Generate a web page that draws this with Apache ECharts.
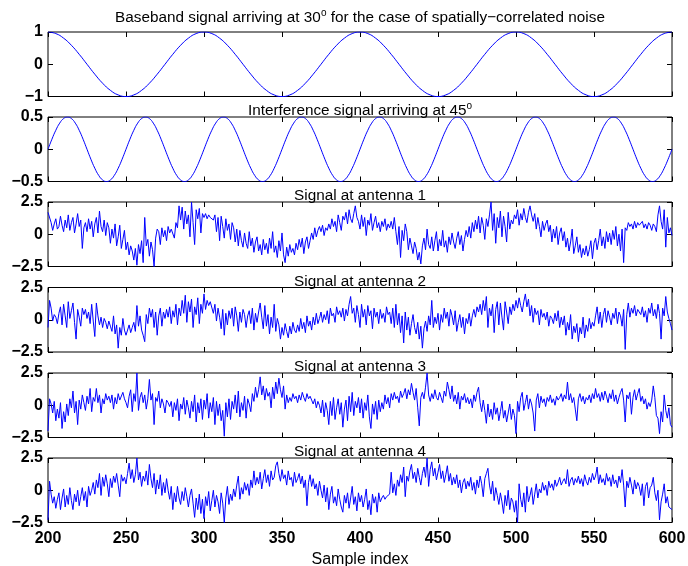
<!DOCTYPE html>
<html><head><meta charset="utf-8">
<script src="https://cdn.jsdelivr.net/npm/echarts@6/dist/echarts.min.js"></script>
<style>html,body{margin:0;padding:0;background:#fff}#c{width:688px;height:566px}</style>
</head><body><div id="c"></div>
<script>
// ---------- DATA ----------
const xStart = 200;
const xEnd = 600;
const xInterval = 50;

const panelTitles = [
  '{n|Baseband signal arriving at 30}{s|o}{n| for the case of spatially\u2212correlated noise}',
  '{n|Interference signal arriving at 45}{s|o}',
  '{n|Signal at antenna 1}',
  '{n|Signal at antenna 2}',
  '{n|Signal at antenna 3}',
  '{n|Signal at antenna 4}'
];
const xAxisName = 'Sample index';
// [min, max, interval]
const yRanges = [[-1, 1, 1], [-0.5, 0.5, 0.5], [-2.5, 2.5, 2.5], [-2.5, 2.5, 2.5], [-2.5, 2.5, 2.5], [-2.5, 2.5, 2.5]];

// baseband signal, one value every 5 samples
const basebandStep = 5;
const baseband = [
 1,0.951,0.809,0.588,0.309,0,-0.309,-0.588,-0.809,-0.951,-1,-0.951,-0.809,-0.588,-0.309,0,0.309,0.588,0.809,0.951,
 1,0.951,0.809,0.588,0.309,0,-0.309,-0.588,-0.809,-0.951,-1,-0.951,-0.809,-0.588,-0.309,0,0.309,0.588,0.809,0.951,
 1,0.951,0.809,0.588,0.309,0,-0.309,-0.588,-0.809,-0.951,-1,-0.951,-0.809,-0.588,-0.309,0,0.309,0.588,0.809,0.951,
 1,0.951,0.809,0.588,0.309,0,-0.309,-0.588,-0.809,-0.951,-1,-0.951,-0.809,-0.588,-0.309,0,0.309,0.588,0.809,0.951,
 1
];

// interference signal, one value every 2.5 samples
const interferenceStep = 2.5;
const interference = [
 0,0.155,0.294,0.405,0.476,0.5,0.476,0.405,0.294,0.155,0,-0.155,-0.294,-0.405,-0.476,-0.5,-0.476,-0.405,-0.294,-0.155,
 0,0.155,0.294,0.405,0.476,0.5,0.476,0.405,0.294,0.155,0,-0.155,-0.294,-0.405,-0.476,-0.5,-0.476,-0.405,-0.294,-0.155,
 0,0.155,0.294,0.405,0.476,0.5,0.476,0.405,0.294,0.155,0,-0.155,-0.294,-0.405,-0.476,-0.5,-0.476,-0.405,-0.294,-0.155,
 0,0.155,0.294,0.405,0.476,0.5,0.476,0.405,0.294,0.155,0,-0.155,-0.294,-0.405,-0.476,-0.5,-0.476,-0.405,-0.294,-0.155,
 0,0.155,0.294,0.405,0.476,0.5,0.476,0.405,0.294,0.155,0,-0.155,-0.294,-0.405,-0.476,-0.5,-0.476,-0.405,-0.294,-0.155,
 0,0.155,0.294,0.405,0.476,0.5,0.476,0.405,0.294,0.155,0,-0.155,-0.294,-0.405,-0.476,-0.5,-0.476,-0.405,-0.294,-0.155,
 0,0.155,0.294,0.405,0.476,0.5,0.476,0.405,0.294,0.155,0,-0.155,-0.294,-0.405,-0.476,-0.5,-0.476,-0.405,-0.294,-0.155,
 0,0.155,0.294,0.405,0.476,0.5,0.476,0.405,0.294,0.155,0,-0.155,-0.294,-0.405,-0.476,-0.5,-0.476,-0.405,-0.294,-0.155,
 0
];

// antenna signals, one value per sample (200..600)
const antennaStep = 1;
const antenna1 = [
 1.7,1.6,0.9,0.3,0.8,1.2,0.4,0.6,1.4,0.7,
 0.2,1.1,0.5,1.5,0.3,0.9,1.3,0.1,0.8,1.6,
 0.6,1.1,-1.1,0.5,0.9,0.2,1.2,0.4,1.0,-0.2,
 0.8,1.3,0.1,1.8,0.6,0.2,1.1,-0.1,0.9,0.5,
 -0.7,0.4,-0.3,0.8,-0.9,-0.2,0.7,-1.1,-0.4,0.3,
 -1.2,-0.6,-1.6,-0.9,-1.3,-2.0,-1.1,-2.4,-0.8,-1.5,
 -0.5,-2.2,1.3,-0.9,-0.4,-1.7,-0.6,-1.2,-2.5,-0.3,
 0.4,0.2,-0.8,0.5,-0.2,0.3,-0.5,0.6,0.1,0.4,
 0.3,-0.3,0.9,0.5,2.2,1.1,2.1,0.4,1.8,0.8,
 1.5,-0.2,2.5,0.9,-0.8,1.9,1.2,2.0,0.1,1.6,
 1.3,1.6,1.2,1.5,1.3,1.4,1.1,1.5,0.2,1.3,
 -0.5,1.4,0.6,-0.3,1.2,0.3,0.8,-0.4,0.9,0.5,
 -0.6,0.4,-0.9,0.3,-0.5,-1.0,0.1,-0.7,-1.1,0.2,
 -0.9,-0.3,-1.4,-0.6,-0.2,-1.3,-0.8,-1.6,-0.4,-1.2,
 -0.7,-1.5,-0.3,-1.1,0.2,-1.4,-0.9,-1.8,-0.5,-1.3,
 0.1,-1.6,-2.2,-1.0,-1.7,-0.8,-1.4,-1.1,-1.6,-0.7,
 -1.2,-0.4,-1.0,-0.3,-1.5,-0.6,-0.2,-1.1,-0.5,0.1,
 -0.4,0.5,-0.2,0.3,0.6,0.2,0.7,-0.1,0.5,0.3,
 0.8,0.4,1.2,0.6,1.0,0.2,1.5,0.9,0.3,1.4,
 1.1,1.7,0.8,1.9,1.2,0.9,1.6,2.2,1.3,1.0,
 0.4,1.5,0.6,1.3,-0.1,1.1,0.7,1.6,0.3,0.9,
 1.4,0.5,0.9,0.2,1.0,0.6,1.2,0.3,0.8,0.5,
 1.0,0.4,1.3,0.2,-0.8,0.6,-1.8,0.3,-0.5,0.8,
 0.2,-1.2,-0.3,-0.9,-1.5,-0.6,-1.1,-2.0,-1.4,-2.3,
 -0.9,-0.3,-1.2,0.4,-0.8,-1.1,-0.2,-1.3,-0.5,0.2,
 -1.3,-0.4,-0.9,0.3,-1.0,-0.5,-1.4,-0.2,-0.8,0.1,
 -0.6,-1.1,-0.3,0.2,-0.8,-0.1,-1.3,-0.4,0.3,-0.2,
 0.6,-0.3,0.9,0.2,1.1,0.4,1.4,0.1,1.3,0.7,
 -0.4,1.2,0.6,1.5,2.5,0.3,1.6,-0.7,1.3,0.5,
 1.8,-0.2,1.4,0.6,-0.6,1.7,0.4,1.1,0.8,1.5,
 1.2,1.9,0.7,1.6,1.1,2.0,1.3,0.9,1.7,2.2,
 1.5,1.0,1.6,0.4,1.3,0.6,-0.2,1.0,0.3,0.8,
 1.1,0.2,0.7,-0.6,0.4,-0.3,0.6,-0.8,0.1,0.5,
 -0.5,0.2,-1.0,-0.3,-1.3,-0.6,0.4,-1.5,-0.9,-0.2,
 -1.4,-0.8,-1.8,-1.1,-1.6,-0.9,-1.7,-1.2,-0.5,-1.9,
 -0.7,-0.3,-1.2,-0.5,0.4,-0.9,-0.2,-1.1,0.2,-0.6,
 0.1,-0.8,0.3,-0.4,0.6,-0.9,0.0,-1.3,0.4,-2.2,
 0.5,0.3,0.9,0.6,0.8,0.4,1.0,0.5,0.9,0.7,
 0.6,1.0,0.5,0.8,0.4,0.9,0.7,0.3,0.8,0.6,
 0.2,1.5,2.2,1.0,0.4,1.9,-1.0,1.3,0.1,0.5,-0.1
];
const antenna2 = [
 -0.6,1.5,0.9,-0.1,0.4,0.2,-0.3,0.5,1.0,-0.4,
 1.2,0.3,-0.6,1.4,0.1,0.7,1.3,-0.2,-1.5,0.8,
 0.2,-0.5,0.9,0.4,0.8,0.1,0.6,-0.3,1.2,-0.1,
 -1.3,1.3,0.3,-0.4,0.2,-0.6,0.1,-0.2,-0.7,-0.1,
 -0.5,-0.9,0.3,-1.1,-0.4,-2.2,-0.6,-1.2,0.1,-0.8,
 -1.2,-1.1,-0.4,-1.0,-0.6,-0.2,-0.9,1.1,-0.5,0.3,
 -0.8,-1.2,-1.7,0.4,-0.3,0.9,0.2,0.8,-0.6,0.6,
 -1.2,0.3,0.9,-0.5,0.6,0.1,0.8,0.2,1.0,-0.3,
 0.7,0.2,1.2,-0.4,0.9,0.3,1.5,0.5,1.9,-0.2,
 1.4,0.6,1.6,-0.6,1.0,0.4,1.7,-0.3,1.2,0.5,
 2.0,0.8,1.5,1.1,1.4,1.3,0.5,1.2,-0.1,0.9,
 0.2,-0.7,0.8,-1.2,0.5,-0.4,0.7,0.1,0.9,-0.5,
 1.0,0.3,-0.9,0.6,-0.2,0.8,0.4,-0.6,0.3,0.7,
 -0.3,0.9,-0.8,0.5,-0.2,0.6,1.3,0.2,-0.7,1.1,
 -0.5,0.4,-1.1,0.2,-0.6,1.2,-0.9,0.1,-0.4,-1.5,
 -0.6,-1.2,-0.3,-0.9,-1.4,-0.5,-1.1,-0.2,-0.8,-1.0,
 -0.4,-0.9,0.1,-0.7,-0.2,-1.0,0.3,-0.5,-0.1,-0.8,
 0.2,-0.4,0.5,-0.3,0.1,0.6,-0.2,0.4,0.0,0.7,
 -0.3,0.9,0.3,0.5,-0.2,1.0,0.4,0.7,0.2,0.9,
 -0.1,0.8,0.3,1.2,1.8,0.5,0.9,-0.2,1.1,0.4,
 -0.6,1.2,0.2,0.8,-0.4,1.1,0.3,0.7,-0.7,0.9,
 0.2,0.6,-0.3,0.8,0.1,0.5,-0.2,1.0,0.4,0.6,
 -0.3,0.9,-0.6,1.2,-0.4,0.5,-1.0,0.3,-1.8,0.6,
 -0.8,0.2,-1.2,-0.3,0.4,-0.6,-1.1,-0.2,-1.5,-0.5,
 -2.2,-0.7,-0.1,-0.9,0.3,-0.4,1.5,-0.6,0.2,-0.3,
 0.5,-0.8,0.4,-0.2,0.9,0.1,0.6,-0.5,0.8,0.3,
 -0.4,0.7,-0.9,-0.2,0.4,-0.6,0.2,-1.1,0.1,-0.3,
 0.5,-0.5,0.3,0.8,0.2,1.0,0.6,1.2,0.4,1.5,
 0.7,1.8,-0.6,0.9,0.3,1.2,-1.0,0.8,1.4,-0.4,
 1.3,0.2,-0.8,1.4,0.6,-0.3,1.0,0.4,1.2,0.7,
 1.5,0.9,1.7,1.1,0.6,1.4,2.0,1.0,1.6,0.3,
 1.1,-0.2,0.9,0.4,0.7,-0.4,0.8,0.2,0.5,0.0,
 0.6,-0.5,0.3,0.1,-0.3,0.5,-0.1,0.7,-0.6,0.2,
 -0.4,0.3,-1.2,-0.2,-0.8,0.4,-1.5,-0.5,-1.0,-0.3,
 -1.7,-0.6,-1.1,0.2,-1.4,-0.4,-0.9,0.1,-0.7,-0.2,
 -0.5,0.3,1.0,-0.3,0.6,-0.6,0.4,0.9,-0.2,0.7,
 0.2,-0.4,0.5,0.1,0.9,-0.3,0.6,0.3,-0.5,0.8,
 -2.3,0.4,1.3,0.2,0.9,0.5,1.1,0.3,0.8,0.6,
 0.4,1.0,0.2,0.7,-0.2,0.9,0.5,1.3,0.3,0.8,
 0.1,1.2,0.5,-1.5,0.9,0.3,1.8,0.6,0.1,-0.3,-0.8
];
const antenna3 = [
 -2.0,0.5,0.1,-0.6,0.3,-1.2,-0.3,-1.0,0.2,-1.8,
 -0.5,-1.3,0.1,-0.8,0.5,-0.2,1.1,-0.6,0.3,-1.5,
 0.4,-0.3,0.8,0.2,-0.4,0.7,0.1,1.3,-0.5,0.6,
 0.3,1.3,0.2,0.8,-0.6,0.5,0.1,0.9,0.4,0.7,
 0.2,0.8,-0.3,0.6,0.1,0.9,0.4,0.3,1.0,0.5,
 0.2,-0.2,0.7,1.2,-0.5,0.9,0.3,2.5,-0.4,0.6,
 1.0,0.2,0.8,-0.3,0.5,2.0,0.4,0.9,-1.5,0.6,
 0.3,1.1,-0.2,0.5,0.1,-0.6,0.4,0.2,-0.1,0.3,
 -0.9,0.2,-0.4,0.5,-1.2,0.1,-0.3,0.6,-0.7,0.4,
 -0.2,-1.0,0.3,-0.5,0.8,-1.3,0.2,-0.6,0.5,-1.1,
 0.4,-0.3,0.9,-1.0,0.2,-0.5,0.6,-1.5,0.3,-0.8,
 0.1,-1.2,-0.4,-2.4,0.2,-0.9,0.5,-1.1,0.3,-0.3,
 0.8,-0.6,1.1,-0.9,0.2,-0.4,0.7,-1.0,0.5,0.1,
 -0.5,0.9,0.3,1.4,0.6,1.2,2.2,0.8,1.5,0.4,
 1.3,0.7,1.0,-0.2,1.4,0.5,1.8,0.9,2.1,1.2,
 0.6,1.5,-0.3,0.8,0.2,0.6,0.3,0.9,0.5,0.7,
 0.2,0.8,0.4,1.0,0.6,0.3,0.9,0.5,0.7,0.4,
 0.1,0.5,-0.2,0.3,0.0,-0.6,0.4,-0.9,0.2,-0.4,
 -1.5,0.3,-0.8,0.6,-1.1,-0.2,0.5,-0.7,0.2,-1.7,
 -0.3,0.4,-1.2,0.7,-0.5,1.0,-0.8,0.3,-0.2,0.6,
 -0.6,0.5,-1.0,0.2,-0.4,0.8,-0.9,-1.8,0.1,-0.7,
 0.3,-1.1,0.4,-0.5,0.2,-0.3,0.8,0.1,0.6,-0.2,
 0.9,0.4,1.0,0.5,0.7,0.2,1.1,0.6,0.9,1.3,
 0.5,1.2,0.8,1.7,1.0,0.4,1.3,-0.2,-1.6,0.6,
 1.0,0.5,1.4,2.5,0.8,0.3,0.9,0.5,1.2,0.6,
 0.4,1.0,0.6,0.2,1.1,0.7,1.8,1.2,0.5,1.5,
 0.3,0.8,0.1,1.0,-0.3,0.7,0.4,0.9,0.2,0.6,
 0.1,0.5,-0.2,0.8,0.3,1.0,1.4,0.2,-0.5,0.4,
 -0.4,-1.4,0.1,-0.9,-0.3,-1.1,0.2,-0.7,-0.2,-1.2,
 -0.5,0.3,-1.0,-0.4,-1.3,-0.6,0.1,-1.1,-0.3,-0.8,
 -2.2,0.3,-0.5,0.6,1.0,-0.4,0.2,0.8,-0.3,0.5,
 0.1,-0.6,-2.0,0.4,0.9,-0.2,0.7,0.2,0.5,-0.1,
 0.6,0.3,0.8,0.2,0.5,0.0,0.7,0.4,0.6,0.9,
 0.3,0.8,0.5,1.8,0.4,0.9,0.2,0.6,-0.3,-1.2,
 0.5,0.9,0.3,0.7,0.1,0.6,0.4,0.8,0.2,0.9,
 0.5,1.3,0.6,0.9,0.3,1.0,0.4,1.1,0.7,0.2,
 0.9,0.5,1.2,0.3,0.8,0.1,0.6,1.0,1.3,0.4,
 -1.3,0.8,0.5,1.0,-0.7,0.6,1.2,0.4,0.9,1.3,
 0.3,0.7,0.1,0.5,-0.3,0.2,-0.1,0.4,1.5,0.6,
 -0.8,-1.0,-2.2,-0.5,-1.3,0.8,-0.4,-1.0,-0.2,-1.5,-1.7
];
const antenna4 = [
 -2.3,0.7,-0.3,-1.0,-0.5,-1.4,-0.7,-0.2,-1.5,-0.6,
 0.1,-1.3,-0.4,-1.1,0.2,-0.8,-1.5,-0.3,-0.9,0.0,
 -1.2,-0.5,0.2,-0.8,-0.1,-1.3,0.3,-0.4,0.0,0.6,
 -0.3,0.8,0.2,1.3,-0.4,1.0,0.3,1.2,0.5,-0.5,
 0.9,0.2,1.1,0.6,1.3,0.4,-0.5,1.2,0.7,1.0,
 0.5,1.3,2.1,0.9,1.6,0.6,1.2,2.5,0.8,1.4,
 0.3,1.1,0.7,1.5,0.4,2.0,0.9,0.2,1.3,-0.3,
 0.8,0.1,1.2,-0.4,0.6,-0.2,0.9,0.0,-0.7,0.3,
 -1.5,-0.2,-0.9,0.3,-0.6,-1.1,-0.1,-0.8,0.2,-0.5,
 -1.3,-0.4,0.1,-1.0,-2.1,-0.6,-1.5,-0.3,-1.8,-0.7,
 -2.2,-0.5,-1.2,-0.1,-1.6,-0.8,0.0,-1.3,-0.4,-0.9,
 -1.8,-0.2,-1.0,-2.5,-0.6,0.3,-1.1,-0.3,-0.8,0.1,
 -0.5,0.4,1.1,-0.7,0.2,-0.3,0.6,0.0,0.5,-0.4,
 0.8,0.2,1.5,0.4,1.0,0.5,1.4,0.1,0.9,1.6,
 0.6,1.2,0.3,1.5,0.8,1.0,1.9,2.2,1.3,0.7,
 1.6,0.9,1.2,0.4,1.5,0.8,1.0,0.3,1.4,0.6,
 0.9,1.3,0.5,1.1,0.2,0.8,-1.2,0.6,1.2,0.3,
 0.9,0.1,0.5,-0.4,0.7,0.0,-0.6,0.4,-0.9,0.2,
 -1.5,-0.3,0.3,-1.0,-0.5,-1.2,0.1,-0.7,-1.3,-1.7,
 -0.4,-1.0,-0.2,-1.4,-0.6,0.3,-1.1,-0.5,-1.6,-0.2,
 -0.9,-0.4,-1.3,-0.7,0.1,-1.5,-0.8,-1.9,-0.3,-1.0,
 -0.5,-1.7,-0.2,-0.9,-0.6,-0.4,-0.7,-0.5,-0.6,-0.3,
 1.4,-0.2,0.5,-0.4,0.8,0.3,1.2,0.6,1.8,-0.5,
 1.1,0.7,1.5,2.0,0.9,1.4,0.6,1.7,1.0,0.4,
 1.3,1.8,1.0,2.5,0.3,1.6,2.2,1.1,1.7,0.8,
 1.4,2.0,0.9,1.5,0.6,1.2,1.9,0.7,1.3,0.4,
 1.0,0.5,1.2,0.2,0.8,-0.2,0.6,0.9,0.1,0.7,
 0.3,1.0,0.0,0.6,-0.3,0.8,0.2,1.1,0.5,-0.5,
 0.9,1.3,1.7,0.4,-0.3,0.7,-0.8,0.2,-0.4,-1.1,
 -0.2,-0.9,-1.8,-0.4,-1.2,0.0,-1.5,-0.6,-0.9,-1.7,
 -0.8,-2.5,0.5,-0.7,-1.3,-0.2,-1.7,0.3,-0.9,-0.4,
 0.2,-1.1,-0.3,0.5,-0.6,0.1,-0.2,0.6,0.0,0.4,
 -0.4,0.7,0.2,0.5,0.0,0.8,0.3,0.6,1.0,0.4,
 0.7,0.9,0.5,1.6,0.3,0.8,1.0,0.4,0.9,0.6,
 1.1,0.5,0.9,0.3,1.2,0.7,0.4,1.0,0.6,1.3,
 0.8,1.1,1.8,0.5,1.2,0.6,0.9,0.4,1.3,0.7,
 1.0,0.3,1.2,0.5,0.8,0.2,1.1,0.6,1.6,0.4,
 -1.3,0.7,0.2,1.0,0.4,-0.3,0.8,0.1,0.6,0.3,
 -0.4,0.5,-1.2,0.3,0.6,-0.6,0.2,0.4,1.0,-0.2,
 -0.8,0.0,-2.3,-0.9,-0.3,0.5,-1.0,-0.5,-1.3,-1.2,-1.5
];

const panelSeries = [
  [baseband, basebandStep],
  [interference, interferenceStep],
  [antenna1, antennaStep],
  [antenna2, antennaStep],
  [antenna3, antennaStep],
  [antenna4, antennaStep]
];

// ---------- LAYOUT / STYLE ----------
const FONT = "'Liberation Sans', Arial, Helvetica, sans-serif";
const gridTops = [32, 117, 202, 287.5, 373, 458];
const gridH = 64.5;
const minus = v => String(v).replace('-', '\u2212');

const grids = [], xAxes = [], yAxes = [], series = [], titles = [];
const nP = panelSeries.length;
for (let k = 0; k < nP; k++) {
  grids.push({left: 48, right: 16, top: gridTops[k], height: gridH, show: true,
    borderColor: '#000', borderWidth: 1, backgroundColor: 'transparent', containLabel: false, outerBoundsMode: 'none'});
}
const tickStyle = {inside: true, length: 5, lineStyle: {color: '#000', width: 1}};
for (let k = 0; k < nP; k++) {
  const last = k === nP - 1;
  xAxes.push({gridIndex: k, type: 'value', min: xStart, max: xEnd, interval: xInterval, position: 'bottom',
    axisLine: {show: false, onZero: false}, axisTick: tickStyle, splitLine: {show: false},
    axisLabel: {show: last, color: '#000', fontFamily: FONT, fontSize: 16, fontWeight: 'bold', margin: 8,
      showMinLabel: true, showMaxLabel: true},
    name: last ? xAxisName : '', nameLocation: 'middle', nameGap: 29, nameMoveOverlap: false,
    nameTextStyle: {color: '#000', fontFamily: FONT, fontSize: 16, fontWeight: 'normal', lineHeight: 16}});
}
for (let k = 0; k < nP; k++) {
  xAxes.push({gridIndex: k, type: 'value', min: xStart, max: xEnd, interval: xInterval, position: 'top',
    axisLine: {show: false, onZero: false}, axisTick: tickStyle, splitLine: {show: false}, axisLabel: {show: false}});
}
for (let k = 0; k < nP; k++) {
  const [mn, mx, iv] = yRanges[k];
  yAxes.push({gridIndex: k, type: 'value', min: mn, max: mx, interval: iv, position: 'left',
    axisLine: {show: false, onZero: false}, axisTick: tickStyle, splitLine: {show: false},
    axisLabel: {color: '#000', fontFamily: FONT, fontSize: 16, fontWeight: 'bold', margin: 5,
      showMinLabel: true, showMaxLabel: true, formatter: minus}});
}
for (let k = 0; k < nP; k++) {
  const [mn, mx, iv] = yRanges[k];
  yAxes.push({gridIndex: k, type: 'value', min: mn, max: mx, interval: iv, position: 'right',
    axisLine: {show: false, onZero: false}, axisTick: tickStyle, splitLine: {show: false}, axisLabel: {show: false}});
}
for (let k = 0; k < nP; k++) {
  const [vals, step] = panelSeries[k];
  series.push({type: 'line', xAxisIndex: k, yAxisIndex: k, symbol: 'none', showSymbol: false,
    smooth: k < 2, animation: false, silent: true,
    lineStyle: {color: '#0000ff', width: 1},
    data: vals.map((v, i) => [xStart + i * step, v])});
}
const titleTops = [8, 101, 186, 271.5, 357, 442];
for (let k = 0; k < nP; k++) {
  titles.push({text: panelTitles[k], left: 360, top: titleTops[k], textAlign: 'center', padding: 0,
    textStyle: {fontFamily: FONT, fontSize: 15, fontWeight: 'normal', color: '#000',
      rich: {
        n: {fontFamily: FONT, fontSize: 15.3, color: '#000', lineHeight: 20},
        s: {fontFamily: FONT, fontSize: 10, color: '#000', lineHeight: 10, verticalAlign: 'top'}
      }}});
}

const chart = echarts.init(document.getElementById('c'), null, {renderer: 'canvas'});
chart.setOption({
  animation: false,
  backgroundColor: '#fff',
  title: titles,
  grid: grids,
  xAxis: xAxes,
  yAxis: yAxes,
  series: series
});
</script>
</body></html>
